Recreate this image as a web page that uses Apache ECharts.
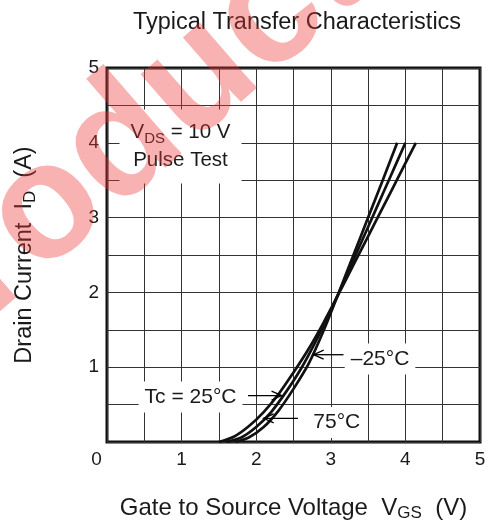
<!DOCTYPE html>
<html>
<head>
<meta charset="utf-8">
<script src="https://cdn.jsdelivr.net/npm/echarts@6/dist/echarts.min.js"></script>
<style>
  html, body { margin: 0; padding: 0; background: #fff; }
  #chart { width: 490px; height: 528px; }
</style>
</head>
<body>
<div id="chart"></div>
<script>
// Transfer curves: gate-source voltage (V) vs drain current (A) at three case temperatures
const vgsCold = [1.72, 1.9, 2.1, 2.3, 2.5, 2.7, 2.9, 3.1, 3.3, 3.5, 3.7, 3.89];
const idCold  = [0, 0.06, 0.20, 0.42, 0.71, 1.04, 1.48, 1.98, 2.49, 3.00, 3.51, 4.0];
const vgsRoom = [1.60, 1.8, 2.0, 2.2, 2.4, 2.6, 2.8, 3.0, 3.2, 3.4, 3.6, 3.8, 4.0];
const idRoom  = [0, 0.06, 0.20, 0.40, 0.67, 0.98, 1.35, 1.76, 2.20, 2.65, 3.10, 3.55, 4.0];
const vgsHot  = [1.50, 1.7, 1.9, 2.1, 2.3, 2.5, 2.7, 2.9, 3.1, 3.3, 3.5, 3.7, 3.9, 4.14];
const idHot   = [0, 0.07, 0.21, 0.40, 0.64, 0.93, 1.24, 1.59, 1.97, 2.36, 2.75, 3.14, 3.53, 4.0];

// Axis ticks
const xTicks = [0, 1, 2, 3, 4, 5];
const yTicks = [1, 2, 3, 4, 5];

// Temperature callouts: label anchor (V, A) and arrow tail -> tip (V, A)
const noteText  = ['\u201325\u00B0C', 'Tc = 25\u00B0C', '75\u00B0C'];
const noteX     = [3.66, 1.12, 3.08];
const noteY     = [1.11, 0.60, 0.26];
const arrowFrom = [[3.17, 1.167], [1.89, 0.62], [2.56, 0.317]];
const arrowTo   = [[2.77, 1.167], [2.34, 0.62], [2.10, 0.317]];

// Test-condition box anchor (V, A)
const condX = [0.985];
const condY = [3.95];

const FONT = '"Liberation Sans", Arial, Helvetica, sans-serif';
const INK = '#1a1a1a';

const zip = (xs, ys) => xs.map((x, i) => [x, ys[i]]);

function curve(name, xs, ys) {
  return {
    name, type: 'line', data: zip(xs, ys),
    smooth: 0.3, showSymbol: false, symbol: 'none',
    lineStyle: { color: '#111', width: 2.7 }, z: 5, silent: true
  };
}

function renderArrow(params, api) {
  const p0 = api.coord([api.value(0), api.value(1)]);
  const p1 = api.coord([api.value(2), api.value(3)]);
  const dx = p1[0] - p0[0], dy = p1[1] - p0[1];
  const len = Math.hypot(dx, dy) || 1;
  const ux = dx / len, uy = dy / len;
  const h = 10, w = 4.5;
  const bx = p1[0] - ux * h, by = p1[1] - uy * h;
  return {
    type: 'group',
    children: [
      { type: 'line', shape: { x1: p0[0], y1: p0[1], x2: p1[0], y2: p1[1] },
        style: { stroke: '#000', lineWidth: 1.3 } },
      { type: 'polyline', shape: { points: [[bx - uy * w, by + ux * w], p1, [bx + uy * w, by - ux * w]] },
        style: { stroke: '#000', lineWidth: 1.3, fill: null } }
    ]
  };
}

function renderNote(params, api) {
  const p = api.coord([api.value(0), api.value(1)]);
  return {
    type: 'text', x: p[0], y: p[1],
    style: {
      text: noteText[params.dataIndex],
      font: '21px ' + FONT, fill: INK,
      align: 'center', verticalAlign: 'middle',
      backgroundColor: '#fff', padding: [5, 6]
    }
  };
}

function renderCondition(params, api) {
  const p = api.coord([api.value(0), api.value(1)]);
  return {
    type: 'text', x: p[0], y: p[1],
    style: {
      text: '{v|V}{s|DS}{v| = 10 V}\n{v|Pulse Test}',
      align: 'center', verticalAlign: 'middle',
      backgroundColor: '#fff', padding: [9, 11],
      rich: {
        v: { fontSize: 20.5, fontFamily: FONT, fill: INK, lineHeight: 28, verticalAlign: 'middle' },
        s: { fontSize: 15, fontFamily: FONT, fill: INK, lineHeight: 18, verticalAlign: 'bottom' }
      }
    }
  };
}

const chart = echarts.init(document.getElementById('chart'), null, { renderer: 'canvas' });

chart.setOption({
  backgroundColor: '#fff',
  animation: false,
  title: {
    text: 'Typical Transfer Characteristics',
    left: 292, top: 6, textAlign: 'center',
    textStyle: { fontSize: 23.5, fontWeight: 'normal', color: INK, fontFamily: FONT }
  },
  grid: {
    left: 107, right: 10, top: 68, bottom: 86,
    show: true, borderColor: '#111', borderWidth: 3, backgroundColor: 'transparent'
  },
  xAxis: {
    type: 'value', min: 0, max: 5, interval: 1,
    name: '{t|Gate to Source Voltage  V}{s|GS}{t|  (V)}',
    nameLocation: 'middle', nameGap: 52,
    nameTextStyle: {
      rich: {
        t: { fontSize: 24, fontFamily: FONT, color: INK, lineHeight: 28, verticalAlign: 'middle' },
        s: { fontSize: 17, fontFamily: FONT, color: INK, lineHeight: 18, verticalAlign: 'bottom' }
      }
    },
    axisLine: { show: false },
    axisTick: { show: false },
    axisLabel: {
      fontSize: 19, fontFamily: FONT, color: INK, margin: 8,
      formatter: v => xTicks.includes(v) ? (v === 0 ? '{z|0}' : String(v)) : '',
      rich: { z: { fontSize: 19, fontFamily: FONT, color: INK, padding: [0, 21, 0, 0] } }
    },
    splitLine: { show: true, lineStyle: { color: '#333', width: 1 } },
    minorTick: { show: false, splitNumber: 2 },
    minorSplitLine: { show: true, lineStyle: { color: '#333', width: 1 } }
  },
  yAxis: {
    type: 'value', min: 0, max: 5, interval: 1,
    name: '{t|Drain Current  I}{s|D}{t|  (A)}',
    nameLocation: 'middle', nameGap: 68, nameRotate: 90,
    nameTextStyle: {
      rich: {
        t: { fontSize: 23.5, fontFamily: FONT, color: INK, lineHeight: 28, verticalAlign: 'middle' },
        s: { fontSize: 17, fontFamily: FONT, color: INK, lineHeight: 18, verticalAlign: 'bottom' }
      }
    },
    axisLine: { show: false },
    axisTick: { show: false },
    axisLabel: {
      fontSize: 19, fontFamily: FONT, color: INK, margin: 8,
      formatter: v => yTicks.includes(v) ? String(v) : ''
    },
    splitLine: { show: true, lineStyle: { color: '#333', width: 1 } },
    minorTick: { show: false, splitNumber: 2 },
    minorSplitLine: { show: true, lineStyle: { color: '#333', width: 1 } }
  },
  series: [
    {
      type: 'custom', name: 'condition', z: 3, silent: true,
      data: zip(condX, condY), renderItem: renderCondition
    },
    {
      type: 'custom', name: 'notes', z: 3, silent: true,
      data: zip(noteX, noteY), renderItem: renderNote
    },
    curve('\u201325\u00B0C', vgsCold, idCold),
    curve('25\u00B0C', vgsRoom, idRoom),
    curve('75\u00B0C', vgsHot, idHot),
    {
      type: 'custom', name: 'arrows', z: 6, silent: true,
      data: arrowFrom.map((f, i) => [f[0], f[1], arrowTo[i][0], arrowTo[i][1]]),
      renderItem: renderArrow
    }
  ],
  graphic: {
    elements: [{
      type: 'text', z: 100, silent: true,
      x: 112, y: 154, rotation: 41 * Math.PI / 180,
      style: {
        text: 'Product',
        font: 'bold 164px ' + FONT,
        fill: 'rgba(237,53,53,0.38)',
        align: 'center', verticalAlign: 'middle'
      }
    }]
  }
});
</script>
</body>
</html>
